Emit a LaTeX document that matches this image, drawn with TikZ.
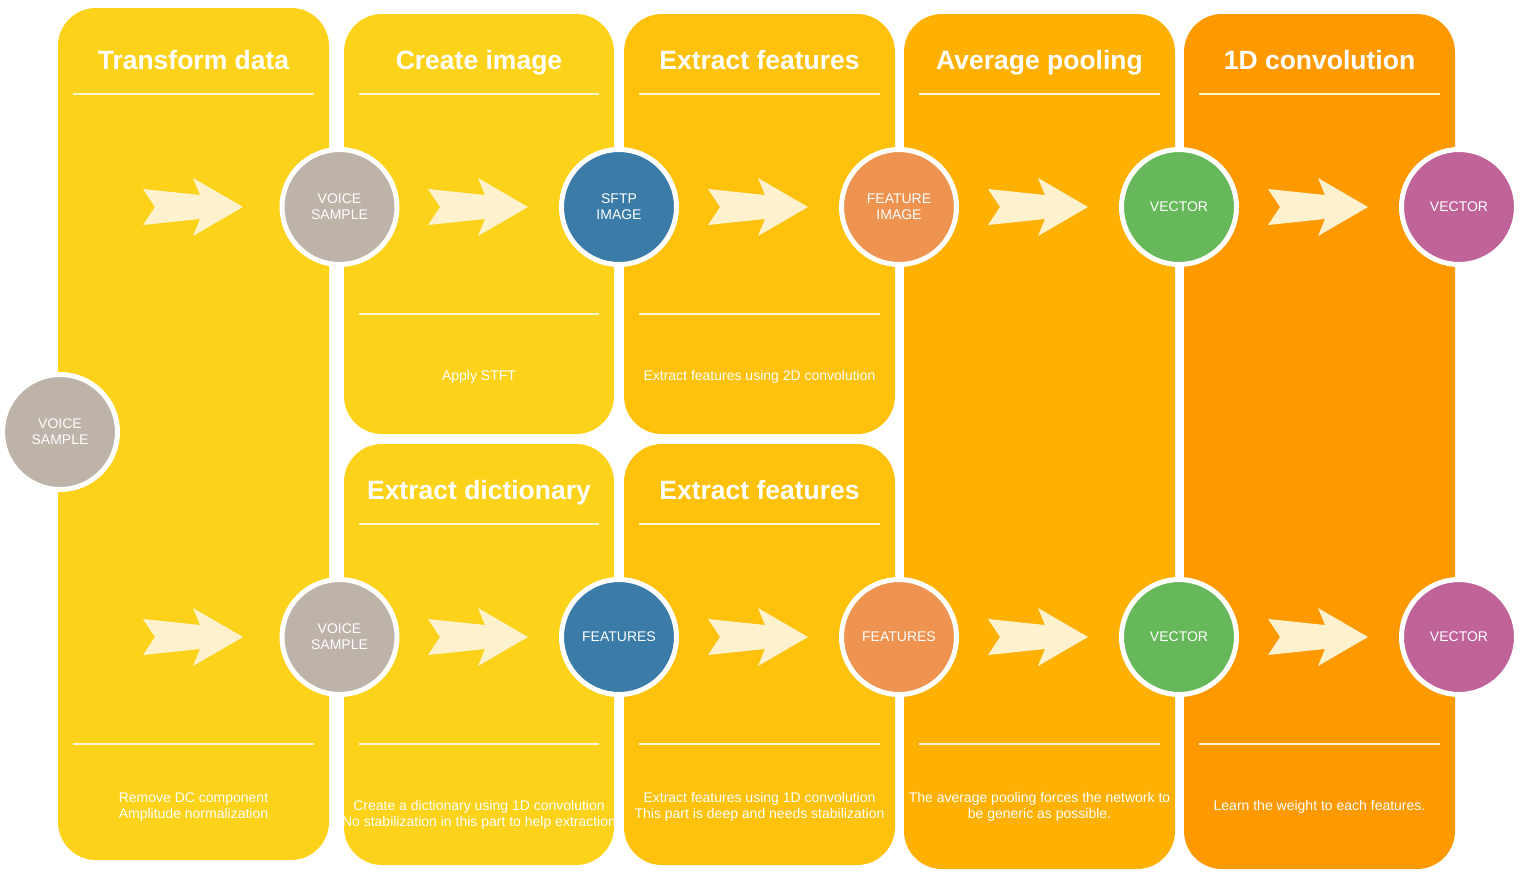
\documentclass[tikz,border=0pt]{standalone}
\usepackage{fontspec}
\setmainfont{Liberation Sans}
\definecolor{yellowA}{HTML}{FDD21B}
\definecolor{yellowB}{HTML}{FEC20C}
\definecolor{orangeA}{HTML}{FEB102}
\definecolor{orangeB}{HTML}{FE9A00}
\definecolor{rulecol}{HTML}{FFF4D2}
\definecolor{arrowcol}{HTML}{FEF1CE}
\definecolor{cgray}{HTML}{BDB3A9}
\definecolor{cblue}{HTML}{3A7BA8}
\definecolor{corange}{HTML}{EE9450}
\definecolor{cgreen}{HTML}{66B85A}
\definecolor{cpurple}{HTML}{BF6399}
\begin{document}
\begin{tikzpicture}[x=1pt,y=-1pt,
  panel/.style={rounded corners=38pt},
  paneltitle/.style={text=white, font=\fontsize{26.5}{30}\selectfont\bfseries, anchor=base, inner sep=0pt},
  titlerule/.style={draw=rulecol, line width=2pt},
  desc/.style={text=white, font=\fontsize{14}{16}\selectfont, align=center, inner sep=0pt},
  stage/.style={circle, draw=white, line width=5pt, minimum size=115pt, inner sep=0pt,
                text=white, font=\fontsize{14}{16}\selectfont, align=center},
  chevron/.pic={\fill[arrowcol] (0,0) -- (-50,-29) -- (-43,-12) -- (-100,-18) -- (-88,0)
                 -- (-100,18) -- (-43,12) -- (-50,29) -- cycle;}
]
\useasboundingbox (0,0) rectangle (1521,879);
\fill[white] (0,0) rectangle (1521,879);

% column panels
\fill[yellowA, panel] (58,8) rectangle (329,860);
\fill[yellowA, panel] (344,14) rectangle (614,434);
\fill[yellowA, panel] (344,444) rectangle (614,865);
\fill[yellowB, panel] (624,14) rectangle (895,434);
\fill[yellowB, panel] (624,444) rectangle (895,865);
\fill[orangeA, panel] (904,14) rectangle (1175,869);
\fill[orangeB, panel] (1184,14) rectangle (1455,869);

% headings
\node[paneltitle] (h1) at (193.5,69.5) {Transform data};
\node[paneltitle] (h2) at (479,69.5) {Create image};
\node[paneltitle] (h3) at (759.5,69.5) {Extract features};
\node[paneltitle] (h4) at (1039.5,69.5) {Average pooling};
\node[paneltitle] (h5) at (1319.5,69.5) {1D convolution};
\node[paneltitle] (h6) at (479,499.5) {Extract dictionary};
\node[paneltitle] (h7) at (759.5,499.5) {Extract features};

% rules under headings and above descriptions
\draw[titlerule] (73,94) -- (314,94);
\draw[titlerule] (359,94) -- (599,94);
\draw[titlerule] (639,94) -- (880,94);
\draw[titlerule] (919,94) -- (1160,94);
\draw[titlerule] (1199,94) -- (1440,94);
\draw[titlerule] (359,524) -- (599,524);
\draw[titlerule] (639,524) -- (880,524);
\draw[titlerule] (359,314) -- (599,314);
\draw[titlerule] (639,314) -- (880,314);
\draw[titlerule] (73,744) -- (314,744);
\draw[titlerule] (359,744) -- (599,744);
\draw[titlerule] (639,744) -- (880,744);
\draw[titlerule] (919,744) -- (1160,744);
\draw[titlerule] (1199,744) -- (1440,744);

% descriptions
\node[desc] (d2) at (479,377) {Apply STFT};
\node[desc] (d3) at (759.5,377) {Extract features using 2D convolution};
\node[desc] (d1) at (193.5,807) {Remove DC component\\Amplitude normalization};
\node[desc] (d6) at (479,815) {Create a dictionary using 1D convolution\\No stabilization in this part to help extraction};
\node[desc] (d7) at (759.5,807) {Extract features using 1D convolution\\This part is deep and needs stabilization};
\node[desc] (d4) at (1039.5,807) {The average pooling forces the network to\\be generic as possible.};
\node[desc] (d5) at (1319.5,807) {Learn the weight to each features.};

% flow arrows
\foreach \tx in {243,528,808,1088,1368} {
  \pic at (\tx,207) {chevron};
  \pic at (\tx,637) {chevron};
}

% stage circles
\node[stage, fill=cgray] (s0) at (60,432) {VOICE\\SAMPLE};
\node[stage, fill=cgray] (t1) at (339.5,207) {VOICE\\SAMPLE};
\node[stage, fill=cblue] (t2) at (619,207) {SFTP\\IMAGE};
\node[stage, fill=corange] (t3) at (899,207) {FEATURE\\IMAGE};
\node[stage, fill=cgreen] (t4) at (1179,207) {VECTOR};
\node[stage, fill=cpurple] (t5) at (1459,207) {VECTOR};
\node[stage, fill=cgray] (b1) at (339.5,637) {VOICE\\SAMPLE};
\node[stage, fill=cblue] (b2) at (619,637) {FEATURES};
\node[stage, fill=corange] (b3) at (899,637) {FEATURES};
\node[stage, fill=cgreen] (b4) at (1179,637) {VECTOR};
\node[stage, fill=cpurple] (b5) at (1459,637) {VECTOR};
\end{tikzpicture}
\end{document}
